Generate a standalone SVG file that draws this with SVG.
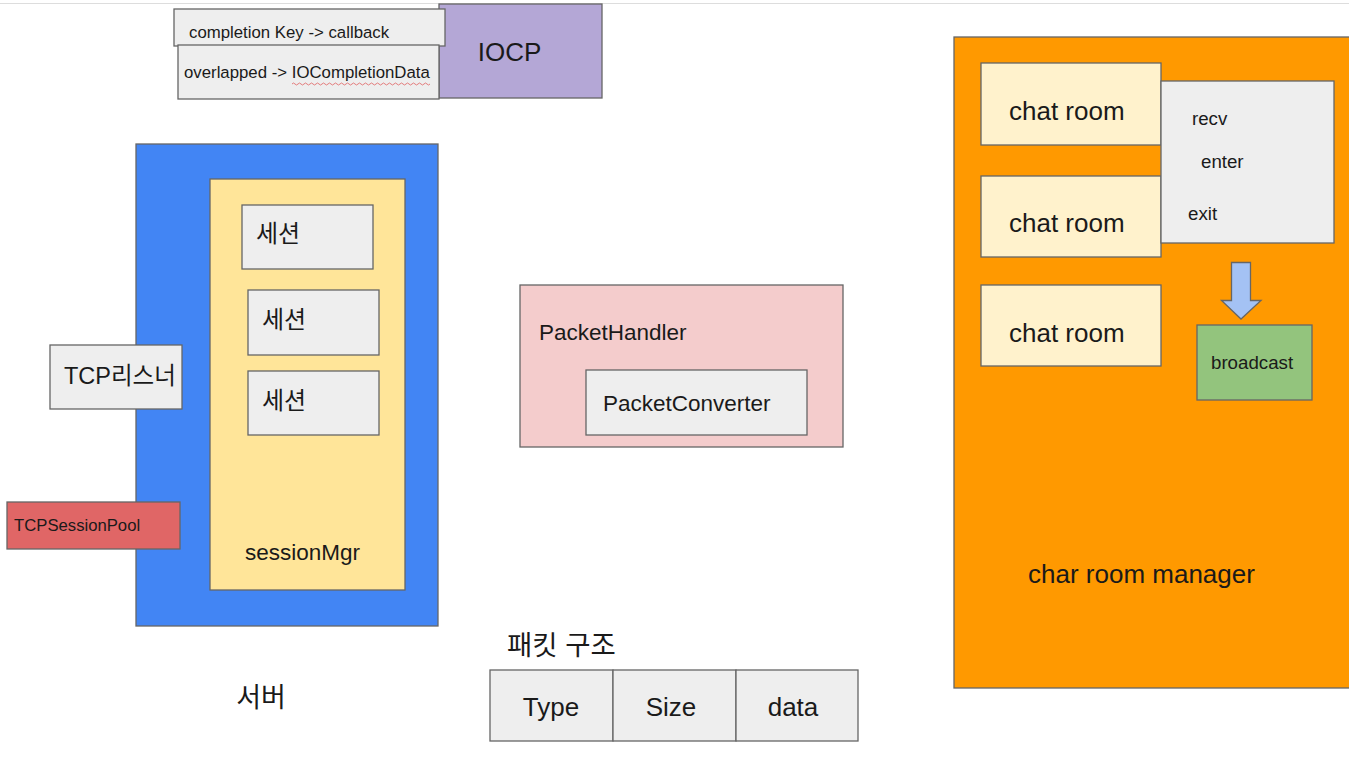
<svg xmlns="http://www.w3.org/2000/svg" width="1349" height="759" viewBox="0 0 1349 759">
<style>
.b{stroke:#666666;stroke-width:1.3}
.g{fill:#eeeeee}
text{font-family:"Liberation Sans","Noto Sans CJK KR",Arial,sans-serif;fill:#1a1a1a}
</style>
<rect width="1349" height="759" fill="#ffffff"/>
<line x1="0" y1="3.5" x2="1349" y2="3.5" stroke="#dddddd" stroke-width="1"/>
<g id="iocp">
<rect class="b" x="439" y="4" width="163" height="94" fill="#b4a7d6"/>
<text x="509.5" y="61" font-size="26" text-anchor="middle">IOCP</text>
</g>
<g id="completion-key">
<rect class="b g" x="174" y="9" width="271" height="37"/>
<text x="189" y="38" font-size="16.8">completion Key -&gt; callback</text>
</g>
<g id="overlapped">
<rect class="b g" x="178" y="45" width="261" height="54"/>
<text x="184" y="78" font-size="16.8">overlapped -&gt; IOCompletionData</text>
<path d="M292,84 q1.5,-2 3,0 t3,0 t3,0 t3,0 t3,0 t3,0 t3,0 t3,0 t3,0 t3,0 t3,0 t3,0 t3,0 t3,0 t3,0 t3,0 t3,0 t3,0 t3,0 t3,0 t3,0 t3,0 t3,0 t3,0 t3,0 t3,0 t3,0 t3,0 t3,0 t3,0 t3,0 t3,0 t3,0 t3,0 t3,0 t3,0 t3,0 t3,0 t3,0 t3,0 t3,0 t3,0 t3,0 t3,0 t3,0 t3,0" fill="none" stroke="#e06060" stroke-width="0.8"/>
</g>
<g id="server">
<rect class="b" x="136" y="144" width="302" height="482" fill="#4285f4"/>
<text x="261" y="707" font-size="27" text-anchor="middle">서버</text>
</g>
<g id="sessionMgr">
<rect class="b" x="210" y="179" width="195" height="411" fill="#ffe599"/>
<text x="245" y="560" font-size="22.5">sessionMgr</text>
</g>
<g id="session1">
<rect class="b g" x="242" y="205" width="131" height="64"/>
<text x="256" y="242" font-size="24">세션</text>
</g>
<g id="session2">
<rect class="b g" x="248" y="290" width="131" height="65"/>
<text x="262" y="328" font-size="24">세션</text>
</g>
<g id="session3">
<rect class="b g" x="248" y="371" width="131" height="64"/>
<text x="262" y="409" font-size="24">세션</text>
</g>
<g id="tcp-listener">
<rect class="b g" x="50" y="345" width="132" height="64"/>
<text x="64" y="384" font-size="23.5">TCP리스너</text>
</g>
<g id="tcp-session-pool">
<rect class="b" x="7" y="502" width="173" height="47" fill="#e06666"/>
<text x="14" y="531" font-size="16.7">TCPSessionPool</text>
</g>
<g id="packet-handler">
<rect class="b" x="520" y="285" width="323" height="162" fill="#f4cccc"/>
<text x="539" y="340" font-size="22.5">PacketHandler</text>
</g>
<g id="packet-converter">
<rect class="b g" x="586" y="370" width="221" height="65"/>
<text x="603" y="411" font-size="22.5">PacketConverter</text>
</g>
<g id="packet-structure">
<text x="507" y="655" font-size="27.5">패킷 구조</text>
<rect class="b g" x="490" y="670" width="123" height="71"/>
<rect class="b g" x="613" y="670" width="123" height="71"/>
<rect class="b g" x="736" y="670" width="122" height="71"/>
<text x="551" y="716" font-size="26" text-anchor="middle">Type</text>
<text x="671" y="716" font-size="26" text-anchor="middle">Size</text>
<text x="793" y="716" font-size="26" text-anchor="middle">data</text>
</g>
<g id="chat-room-manager">
<rect class="b" x="954" y="37" width="400" height="651" fill="#ff9900"/>
<text x="1028" y="583" font-size="26">char room manager</text>
</g>
<g id="chat-room-1">
<rect class="b" x="981" y="63" width="180" height="82" fill="#fff2cc"/>
<text x="1009" y="120" font-size="26">chat room</text>
</g>
<g id="chat-room-2">
<rect class="b" x="981" y="176" width="180" height="81" fill="#fff2cc"/>
<text x="1009" y="232" font-size="26">chat room</text>
</g>
<g id="chat-room-3">
<rect class="b" x="981" y="285" width="180" height="81" fill="#fff2cc"/>
<text x="1009" y="342" font-size="26">chat room</text>
</g>
<g id="room-actions">
<rect class="b g" x="1161" y="81" width="173" height="162"/>
<text x="1192" y="125" font-size="18.7">recv</text>
<text x="1201" y="168" font-size="18.7">enter</text>
<text x="1188" y="220" font-size="18.7">exit</text>
</g>
<g id="connectors">
<path class="b" d="M1231.5,262.5 H1250.5 V300.5 H1261 L1241,319 L1221.5,300.5 H1231.5 Z" fill="#a4c2f4"/>
</g>
<g id="broadcast">
<rect class="b" x="1197" y="325" width="115" height="75" fill="#93c47d"/>
<text x="1211" y="369" font-size="18.7">broadcast</text>
</g>
</svg>
